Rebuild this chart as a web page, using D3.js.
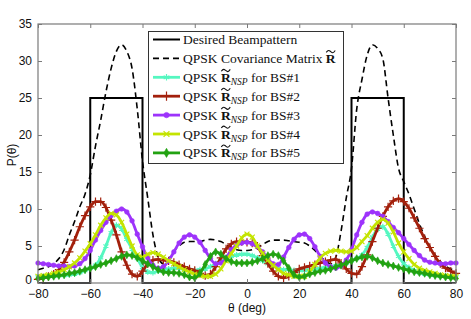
<!DOCTYPE html>
<html><head><meta charset="utf-8">
<script src="https://cdn.jsdelivr.net/npm/d3@7"></script>
<style>body{margin:0;background:#fff}</style>
</head><body>
<svg id="c" width="471" height="319"></svg>
<script>
// ---------------- data ----------------
const angles = [-80,-78,-76,-74,-72,-70,-68,-66,-64,-62,
  -60,-58,-56,-54,-52,-50,-48,-46,-44,-42,
  -40,-38,-36,-34,-32,-30,-28,-26,-24,-22,
  -20,-18,-16,-14,-12,-10,-8,-6,-4,-2,
  0,2,4,6,8,10,12,14,16,18,
  20,22,24,26,28,30,32,34,36,38,
  40,42,44,46,48,50,52,54,56,58,
  60,62,64,66,68,70,72,74,76,78,
  80];
const desiredAngles = [-80,-60,-60,-40,-40,40,40,60,60,80];
const desiredVals   = [0,0,25,25,0,0,25,25,0,0];
const covQPSK = [1.8,2.0,2.2,2.6,3.3,4.5,6.5,8.3,10.3,12.0,
  14.6,18.5,22.0,25.8,29.0,31.3,32.2,31.3,29.0,23.5,
  16.5,11.5,6.5,3.5,2.6,3.2,4.3,5.0,5.5,5.6,
  5.6,5.6,5.8,5.9,5.8,5.6,5.2,4.8,4.5,4.4,
  4.4,4.5,4.8,5.2,5.6,5.8,5.8,5.8,5.7,5.6,
  5.5,5.4,5.0,4.4,3.6,3.0,2.6,3.5,7.0,11.5,
  15.5,23.5,27.5,30.8,32.2,31.7,30.3,25.0,20.0,15.5,
  13.7,12.0,10.0,8.0,6.3,4.9,3.8,2.9,2.3,1.9,
  1.8];
const bs1 = [0.8,0.8,0.9,0.9,1.0,1.0,1.1,1.2,1.4,1.7,
  2.0,2.4,3.4,5.0,6.8,7.8,7.3,5.9,4.6,3.3,
  2.1,1.5,1.4,1.6,1.8,1.9,2.0,2.0,1.9,1.8,
  1.7,1.8,1.9,2.2,2.6,3.0,3.3,3.6,3.8,3.9,
  3.9,3.7,3.4,3.0,2.6,2.3,2.0,1.8,1.8,1.7,
  1.7,1.7,1.8,1.9,2.0,2.1,2.2,2.3,2.5,2.7,
  3.0,3.3,3.8,4.8,6.2,7.3,7.6,6.6,5.0,3.6,
  2.6,2.1,1.7,1.4,1.2,1.1,1.0,0.9,0.9,0.8,
  0.8];
const bs2 = [0.5,0.7,0.9,1.2,1.8,2.8,4.2,5.8,7.6,9.1,
  10.3,11.0,11.0,10.2,8.5,6.5,4.2,2.4,1.2,0.9,
  1.6,2.6,3.1,3.2,3.1,3.0,2.8,2.5,2.2,1.9,
  1.7,1.3,1.0,1.2,2.2,3.4,4.6,5.3,5.6,5.6,
  5.5,5.4,5.0,3.7,2.6,1.6,0.9,0.7,0.9,1.4,
  1.9,2.1,2.3,2.5,2.7,2.9,3.1,3.2,2.7,1.9,
  1.3,1.2,2.2,3.8,5.6,7.4,9.0,10.3,11.1,11.4,
  11.0,10.1,8.8,7.4,6.0,4.8,3.6,2.6,2.0,1.6,
  1.3];
const bs3 = [2.7,2.6,2.5,2.4,2.3,2.3,2.2,2.3,2.6,3.3,
  4.4,5.8,7.1,8.2,9.1,9.7,10.0,9.6,8.4,6.6,
  4.9,3.4,2.4,2.0,2.2,3.0,4.2,5.4,6.2,6.5,
  6.2,5.5,4.4,3.3,2.6,2.7,3.4,4.5,5.1,5.4,
  5.5,5.3,4.9,4.2,3.3,2.6,2.5,3.5,4.8,5.9,
  6.5,6.6,6.0,4.9,3.6,2.7,2.2,2.0,2.3,3.1,
  4.5,6.5,8.2,9.3,9.6,9.4,9.0,8.3,7.5,6.8,
  6.0,5.2,4.4,3.7,3.1,2.8,2.7,2.6,2.6,2.7,
  2.7];
const bs4 = [0.9,1.0,1.1,1.3,1.5,1.8,2.2,2.7,3.4,4.3,
  5.3,6.5,7.8,8.8,9.4,9.2,8.2,6.6,5.0,3.8,
  3.5,3.9,4.1,3.9,3.5,3.0,2.6,2.2,1.8,1.5,
  1.2,1.0,0.9,0.9,1.2,1.9,3.0,4.0,5.0,6.1,
  6.6,6.2,5.0,4.0,3.1,2.4,1.8,1.3,1.1,0.9,
  0.9,0.9,1.5,2.5,3.4,4.0,4.3,4.4,4.3,4.2,
  4.3,4.8,5.6,6.4,7.4,8.2,8.6,8.1,6.9,5.4,
  4.2,3.3,2.5,2.0,1.7,1.5,1.3,1.1,1.0,0.9,
  0.9];
const bs5 = [0.6,0.7,0.8,0.9,1.0,1.1,1.3,1.4,1.6,1.8,
  2.0,2.2,2.5,2.7,3.0,3.3,3.6,3.8,3.7,3.4,
  3.0,2.6,2.2,1.8,1.5,1.4,1.4,1.3,1.1,0.8,
  0.7,1.3,2.5,3.6,4.2,3.9,3.3,2.9,2.7,2.7,
  2.7,2.8,3.0,3.3,3.7,3.9,3.7,3.0,2.0,1.1,
  0.8,0.9,1.2,1.4,1.6,1.7,1.9,2.2,2.4,2.7,
  3.0,3.3,3.5,3.6,3.4,3.0,2.7,2.5,2.3,2.1,
  1.9,1.7,1.5,1.4,1.3,1.1,1.0,0.9,0.8,0.7,
  0.6];
const xTicks = [-80,-60,-40,-20,0,20,40,60,80];
const yTicks = [0,5,10,15,20,25,30,35];
const bsNames = ["BS#1","BS#2","BS#3","BS#4","BS#5"];
const bsColors = ["#55f7c0","#a3200c","#9d33fb","#c4e400","#22a212"];
const bsSymbols = ["asterisk","plus","circle","times","diamond"];
const bsSeries = [bs1,bs2,bs3,bs4,bs5];

// ---------------- chart ----------------
const svg = d3.select("#c");
svg.append("rect").attr("width",471).attr("height",319).attr("fill","#fff");
const x = d3.scaleLinear().domain([-80,80]).range([38,456]);
const y = d3.scaleLinear().domain([0,35]).range([283,24]);
const axisCol = "#7a7a7a";
const tickFont = "'Liberation Sans', Arial, Helvetica, sans-serif";

const plot = svg.append("g");
const line = d3.line().x(d=>x(d[0])).y(d=>y(d[1]));
const smooth = d3.line().x(d=>x(d[0])).y(d=>y(d[1])).curve(d3.curveMonotoneX);

function styleAxis(g){
  g.select(".domain").remove();
  g.selectAll(".tick line").attr("stroke",axisCol).attr("stroke-width",1);
  g.selectAll("text").attr("font-family",tickFont).attr("font-size",12).attr("fill","#111");
}
svg.append("g").attr("transform","translate(0,283)")
  .call(d3.axisBottom(x).tickValues(xTicks).tickSize(-4).tickPadding(6.5).tickFormat(d3.format("d")))
  .call(styleAxis);
svg.append("g").attr("transform","translate(0,24)")
  .call(d3.axisTop(x).tickValues(xTicks).tickSize(-4).tickFormat(""))
  .call(styleAxis);
svg.append("g").attr("transform","translate(38,0)")
  .call(d3.axisLeft(y).tickValues(yTicks).tickSize(-4).tickPadding(6))
  .call(styleAxis)
  .call(g => g.selectAll(".tick").filter(d => d === 0).select("text").attr("dy","0.08em"));
svg.append("g").attr("transform","translate(456,0)")
  .call(d3.axisRight(y).tickValues(yTicks).tickSize(-4).tickFormat(""))
  .call(styleAxis);
svg.append("rect").attr("x",x(-80)).attr("y",y(35)).attr("width",x(80)-x(-80)).attr("height",y(0)-y(35))
  .attr("fill","none").attr("stroke",axisCol).attr("stroke-width",1.2);

// desired
plot.append("path").datum(desiredAngles.map((a,i)=>[a,desiredVals[i]]))
  .attr("d",line).attr("fill","none").attr("stroke","#000").attr("stroke-width",2);
// covariance
plot.append("path").datum(angles.map((a,i)=>[a,covQPSK[i]]))
  .attr("d",smooth).attr("fill","none").attr("stroke","#000").attr("stroke-width",1.6)
  .attr("stroke-dasharray","6,4");

function symPath(kind, size){
  const m = {asterisk:d3.symbolAsterisk, plus:d3.symbolPlus, circle:d3.symbolCircle, times:d3.symbolTimes, diamond:d3.symbolDiamond};
  return d3.symbol().type(m[kind]).size(size)();
}
function symStyle(sel, kind, col){
  const filled = (kind==="circle"||kind==="diamond");
  sel.attr("fill", filled?col:"none").attr("stroke",col).attr("stroke-width", filled?0.6:1.2);
}
const symSize = {asterisk:24, plus:24, circle:17, times:18, diamond:18};

bsSeries.forEach((s,k)=>{
  const pts = angles.map((a,i)=>[a,s[i]]);
  const g = plot.append("g");
  g.append("path").datum(pts).attr("d",smooth).attr("fill","none")
    .attr("stroke",bsColors[k]).attr("stroke-width",2.8);
  g.selectAll("path.m").data(pts).join("path").attr("class","m")
    .attr("transform",d=>`translate(${x(d[0])},${y(d[1])})`)
    .attr("d",symPath(bsSymbols[k],symSize[bsSymbols[k]]))
    .call(symStyle,bsSymbols[k],bsColors[k]);
});

// axis labels
svg.append("text").attr("x",247).attr("y",311.5).attr("text-anchor","middle")
  .attr("font-family",tickFont).attr("font-size",12).attr("fill","#111").text("θ (deg)");
svg.append("text").attr("transform","translate(16,155) rotate(-90)").attr("text-anchor","middle")
  .attr("font-family",tickFont).attr("font-size",12).attr("fill","#111").text("P(θ)");

// legend
const serif = "'Liberation Serif', 'Times New Roman', serif";
const fs = 13.5;
const lg = svg.append("g");
lg.append("rect").attr("x",148.5).attr("y",31.5).attr("width",195).attr("height",132)
  .attr("fill","#fff").attr("stroke","#333").attr("stroke-width",1);
function measure(str, weight, size){
  const t = svg.append("text").attr("font-family",serif).attr("font-size",size).attr("font-weight",weight).text(str);
  const w = t.node().getComputedTextLength(); t.remove(); return w;
}
const wR = measure("R","bold",fs);
const wSp = measure("a a","normal",fs) - measure("aa","normal",fs);
// tilde accent over the bold R, drawn as a small stroke
function tildeAt(cx, baseline){
  const w = wR*0.92, h = 1.6, top = baseline - fs*0.66 - 3.2;
  const p = d3.path();
  p.moveTo(cx - w/2, top + h);
  p.bezierCurveTo(cx - w/4, top - h, cx - w/8, top, cx, top + h*0.5);
  p.bezierCurveTo(cx + w/8, top + h*1.1, cx + w/4, top + h*2, cx + w/2, top - h*0.2);
  lg.append("path").attr("d",p.toString()).attr("fill","none").attr("stroke","#111").attr("stroke-width",1.1);
}
const rowY = i => 39.5 + i*18.9;
const lx0 = 153, lx1 = 180, tx = 183;
// row 0
lg.append("line").attr("x1",lx0).attr("x2",lx1).attr("y1",rowY(0)).attr("y2",rowY(0))
  .attr("stroke","#000").attr("stroke-width",2);
lg.append("text").attr("x",tx).attr("y",rowY(0)+4.5).attr("font-family",serif).attr("font-size",fs)
  .attr("fill","#111").text("Desired Beampattern");
// row 1
lg.append("line").attr("x1",lx0).attr("x2",lx1).attr("y1",rowY(1)).attr("y2",rowY(1))
  .attr("stroke","#000").attr("stroke-width",1.6).attr("stroke-dasharray","6,4");
const t1 = lg.append("text").attr("x",tx).attr("y",rowY(1)+4.5).attr("font-family",serif).attr("font-size",fs).attr("fill","#111");
t1.append("tspan").text("QPSK Covariance Matrix ");
t1.append("tspan").attr("font-weight","bold").text("R");
tildeAt(tx + measure("QPSK Covariance Matrix","normal",fs) + wSp + wR/2, rowY(1)+4.5);
// rows 2..6
const wPre = measure("QPSK","normal",fs) + wSp;
bsNames.forEach((nm,k)=>{
  const yy = rowY(k+2);
  lg.append("line").attr("x1",lx0).attr("x2",lx1).attr("y1",yy).attr("y2",yy)
    .attr("stroke",bsColors[k]).attr("stroke-width",2.8);
  lg.append("path").attr("transform",`translate(${(lx0+lx1)/2},${yy})`)
    .attr("d",symPath(bsSymbols[k],symSize[bsSymbols[k]]+6)).call(symStyle,bsSymbols[k],bsColors[k]);
  const t = lg.append("text").attr("x",tx).attr("y",yy+4.5).attr("font-family",serif).attr("font-size",fs).attr("fill","#111");
  t.append("tspan").text("QPSK ");
  t.append("tspan").attr("font-weight","bold").text("R");
  t.append("tspan").attr("font-style","italic").attr("font-size",9.5).attr("dy",3).text("NSP");
  t.append("tspan").attr("dy",-3).text(" for " + nm);
  tildeAt(tx + wPre + wR/2, yy+4.5);
});
</script>
</body></html>
